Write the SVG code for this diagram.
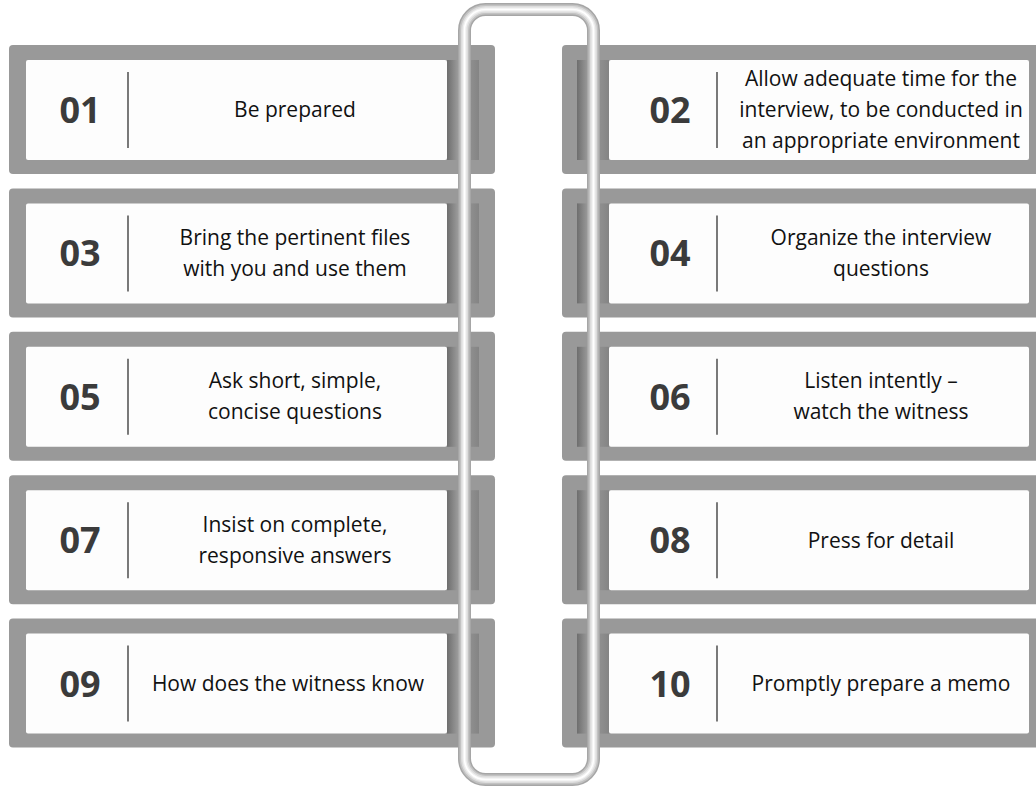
<svg xmlns="http://www.w3.org/2000/svg" width="1036" height="789" viewBox="0 0 1036 789">
  <defs>
    <linearGradient id="strip" x1="0" y1="0" x2="1" y2="0">
      <stop offset="0" stop-color="#6e6e6e"/>
      <stop offset="0.35" stop-color="#9c9c9c"/>
      <stop offset="0.8" stop-color="#8c8c8c"/>
      <stop offset="1" stop-color="#848484"/>
    </linearGradient>
    <rect id="ring" x="464.5" y="9.5" width="129" height="770" rx="21" ry="21" fill="none"/>
  </defs>
  <style>
    .frame { fill: #999999; }
    .panel { fill: #fdfdfd; }
    .fold { fill: url(#strip); }
    .sep { stroke: #333333; stroke-width: 1.3; }
    .num { font-family: "Open Sans", "DejaVu Sans", sans-serif; font-weight: 700; font-size: 36px; fill: #3b3b3b; text-anchor: middle; }
    .txt { font-family: "Open Sans", "DejaVu Sans", sans-serif; font-size: 21px; fill: #111111; text-anchor: middle; }
  </style>
  <rect width="1036" height="789" fill="#ffffff"/>

  <!-- left column -->
  <g id="item-01">
    <rect class="frame" x="9" y="45" width="486" height="129" rx="4"/>
    <rect class="panel" x="26" y="60" width="421" height="100" rx="2"/>
    <rect class="fold" x="447" y="60" width="32" height="100"/>
    <line class="sep" x1="128" y1="72" x2="128" y2="148"/>
    <text class="num" x="80" y="123">01</text>
    <text class="txt" x="295" y="117">Be prepared</text>
  </g>
  <g id="item-03">
    <rect class="frame" x="9" y="188.4" width="486" height="129" rx="4"/>
    <rect class="panel" x="26" y="203.4" width="421" height="100" rx="2"/>
    <rect class="fold" x="447" y="203.4" width="32" height="100"/>
    <line class="sep" x1="128" y1="215.4" x2="128" y2="291.4"/>
    <text class="num" x="80" y="266.4">03</text>
    <text class="txt" x="295" y="245">Bring the pertinent files</text>
    <text class="txt" x="295" y="276">with you and use them</text>
  </g>
  <g id="item-05">
    <rect class="frame" x="9" y="331.8" width="486" height="129" rx="4"/>
    <rect class="panel" x="26" y="346.8" width="421" height="100" rx="2"/>
    <rect class="fold" x="447" y="346.8" width="32" height="100"/>
    <line class="sep" x1="128" y1="358.8" x2="128" y2="434.8"/>
    <text class="num" x="80" y="409.8">05</text>
    <text class="txt" x="295" y="388.4">Ask short, simple,</text>
    <text class="txt" x="295" y="419.4">concise questions</text>
  </g>
  <g id="item-07">
    <rect class="frame" x="9" y="475.2" width="486" height="129" rx="4"/>
    <rect class="panel" x="26" y="490.2" width="421" height="100" rx="2"/>
    <rect class="fold" x="447" y="490.2" width="32" height="100"/>
    <line class="sep" x1="128" y1="502.2" x2="128" y2="578.2"/>
    <text class="num" x="80" y="553.2">07</text>
    <text class="txt" x="295" y="531.8">Insist on complete,</text>
    <text class="txt" x="295" y="562.8">responsive answers</text>
  </g>
  <g id="item-09">
    <rect class="frame" x="9" y="618.6" width="486" height="129" rx="4"/>
    <rect class="panel" x="26" y="633.6" width="421" height="100" rx="2"/>
    <rect class="fold" x="447" y="633.6" width="32" height="100"/>
    <line class="sep" x1="128" y1="645.6" x2="128" y2="721.6"/>
    <text class="num" x="80" y="696.6">09</text>
    <text class="txt" x="288" y="691">How does the witness know</text>
  </g>

  <!-- right column -->
  <g id="item-02">
    <rect class="frame" x="562" y="45" width="490" height="129" rx="4"/>
    <rect class="panel" x="609" y="60" width="420" height="100" rx="2"/>
    <rect class="fold" x="577" y="60" width="32" height="100"/>
    <line class="sep" x1="717" y1="72" x2="717" y2="148"/>
    <text class="num" x="670" y="123">02</text>
    <text class="txt" x="881" y="86">Allow adequate time for the</text>
    <text class="txt" x="881" y="117">interview, to be conducted in</text>
    <text class="txt" x="881" y="148">an appropriate environment</text>
  </g>
  <g id="item-04">
    <rect class="frame" x="562" y="188.4" width="490" height="129" rx="4"/>
    <rect class="panel" x="609" y="203.4" width="420" height="100" rx="2"/>
    <rect class="fold" x="577" y="203.4" width="32" height="100"/>
    <line class="sep" x1="717" y1="215.4" x2="717" y2="291.4"/>
    <text class="num" x="670" y="266.4">04</text>
    <text class="txt" x="881" y="245">Organize the interview</text>
    <text class="txt" x="881" y="276">questions</text>
  </g>
  <g id="item-06">
    <rect class="frame" x="562" y="331.8" width="490" height="129" rx="4"/>
    <rect class="panel" x="609" y="346.8" width="420" height="100" rx="2"/>
    <rect class="fold" x="577" y="346.8" width="32" height="100"/>
    <line class="sep" x1="717" y1="358.8" x2="717" y2="434.8"/>
    <text class="num" x="670" y="409.8">06</text>
    <text class="txt" x="881" y="388.4">Listen intently –</text>
    <text class="txt" x="881" y="419.4">watch the witness</text>
  </g>
  <g id="item-08">
    <rect class="frame" x="562" y="475.2" width="490" height="129" rx="4"/>
    <rect class="panel" x="609" y="490.2" width="420" height="100" rx="2"/>
    <rect class="fold" x="577" y="490.2" width="32" height="100"/>
    <line class="sep" x1="717" y1="502.2" x2="717" y2="578.2"/>
    <text class="num" x="670" y="553.2">08</text>
    <text class="txt" x="881" y="547.6">Press for detail</text>
  </g>
  <g id="item-10">
    <rect class="frame" x="562" y="618.6" width="490" height="129" rx="4"/>
    <rect class="panel" x="609" y="633.6" width="420" height="100" rx="2"/>
    <rect class="fold" x="577" y="633.6" width="32" height="100"/>
    <line class="sep" x1="717" y1="645.6" x2="717" y2="721.6"/>
    <text class="num" x="670" y="696.6">10</text>
    <text class="txt" x="881" y="691">Promptly prepare a memo</text>
  </g>

  <!-- binder ring threading both columns, shaded as a metal tube -->
  <g id="connectors">
    <use href="#ring" stroke="#a6a6a6" stroke-width="13"/>
    <use href="#ring" stroke="#c2c2c2" stroke-width="10"/>
    <use href="#ring" stroke="#dcdcdc" stroke-width="7"/>
    <use href="#ring" stroke="#f0f0f0" stroke-width="4"/>
    <use href="#ring" stroke="#ffffff" stroke-width="1.5"/>
  </g>
</svg>
